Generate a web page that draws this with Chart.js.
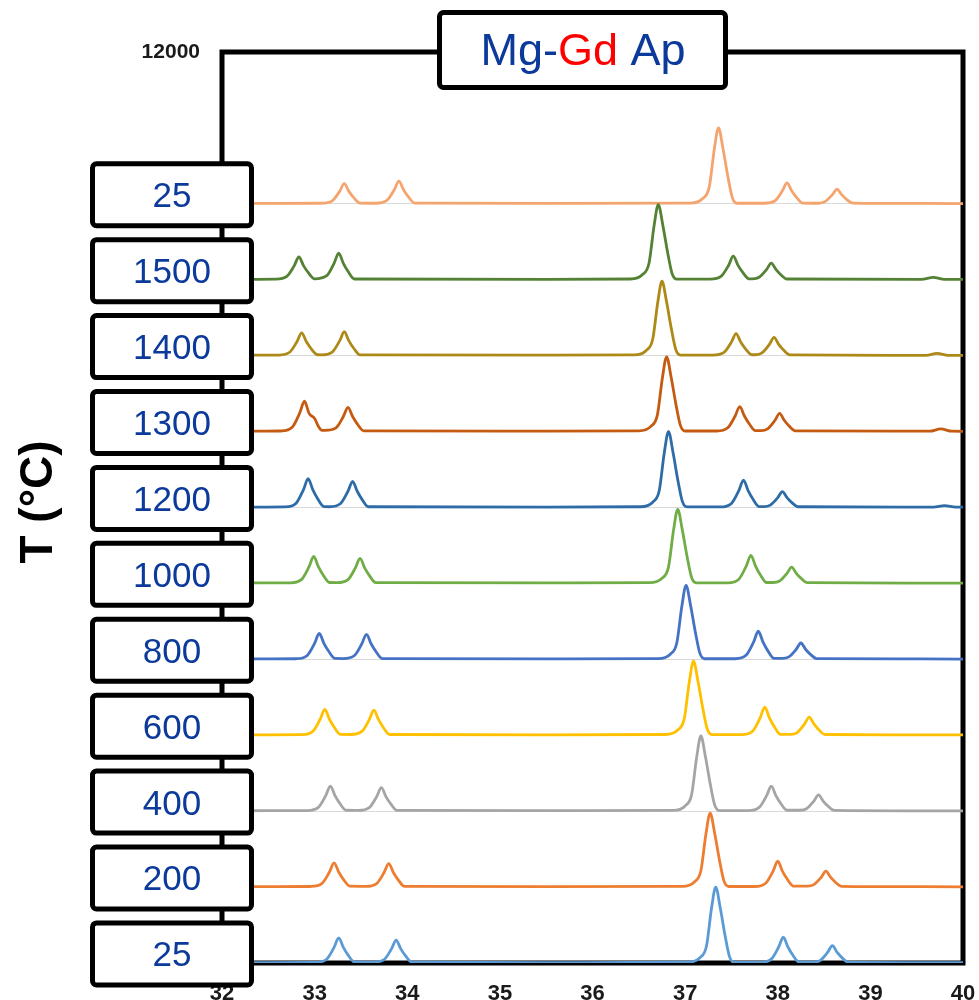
<!DOCTYPE html>
<html>
<head>
<meta charset="utf-8">
<script src="https://cdn.jsdelivr.net/npm/chart.js@4.4.0/dist/chart.umd.min.js"></script>
<style>
  body { margin: 0; background: #fff; }
  canvas { display: block; }
</style>
</head>
<body>
<canvas id="chart" width="979" height="1000"></canvas>
<script>
// temperatures, bottom pattern first
var temps = ['25', '200', '400', '600', '800', '1000', '1200', '1300', '1400', '1500', '25'];
// vertical shift of each pattern (counts)
var offsets = [0, 1000, 2000, 3000, 4000, 5000, 6000, 7000, 8000, 9000, 10000];
var xRange = [32, 40];
var yRange = [0, 12000];

// [2theta, counts above own baseline]
var p25 = [[32,5],[32.5,6],[33.01,8],[33.13,50],[33.21,205],[33.26,330],[33.31,205],[33.36,106],[33.43,12],[33.63,10],[33.75,45],[33.83,186],[33.88,300],[33.93,186],[33.98,96],[34.05,10],[35.5,6],[37.03,10],[37.16,70],[37.23,220],[37.285,720],[37.33,1000],[37.38,720],[37.43,370],[37.48,80],[37.53,8],[37.81,8],[37.93,51],[38.01,211],[38.06,340],[38.11,211],[38.16,109],[38.23,12],[38.39,12],[38.46,35],[38.54,143],[38.59,230],[38.64,143],[38.69,74],[38.76,10],[39.4,5],[40,4]];
var p200 = [[32,5],[32.5,6],[32.96,8],[33.08,48],[33.16,198],[33.21,320],[33.26,198],[33.31,102],[33.38,12],[33.55,10],[33.67,47],[33.75,192],[33.80,310],[33.85,192],[33.90,99],[33.97,10],[35.5,6],[36.97,10],[37.10,68],[37.17,215],[37.225,702],[37.27,975],[37.32,702],[37.37,361],[37.42,78],[37.47,8],[37.75,8],[37.87,51],[37.95,211],[38.00,340],[38.05,211],[38.10,109],[38.17,12],[38.32,12],[38.39,32],[38.47,130],[38.52,210],[38.57,130],[38.62,67],[38.69,10],[39.4,5],[40,4]];
var p400 = [[32,5],[32.5,6],[32.92,8],[33.04,50],[33.12,205],[33.17,330],[33.22,205],[33.27,106],[33.34,12],[33.47,10],[33.59,47],[33.67,192],[33.72,310],[33.77,192],[33.82,99],[33.89,10],[35.5,6],[36.87,10],[37.00,69],[37.07,218],[37.125,713],[37.17,990],[37.22,713],[37.27,366],[37.32,79],[37.37,8],[37.68,8],[37.80,50],[37.88,205],[37.93,330],[37.98,205],[38.03,106],[38.10,12],[38.24,12],[38.31,32],[38.39,133],[38.44,215],[38.49,133],[38.54,69],[38.61,10],[39.4,5],[40,4]];
var p600 = [[32,5],[32.5,6],[32.86,8],[32.98,51],[33.06,211],[33.11,340],[33.16,211],[33.21,109],[33.28,12],[33.39,10],[33.51,50],[33.59,205],[33.64,330],[33.69,205],[33.74,106],[33.81,10],[35.5,6],[36.79,10],[36.92,68],[36.99,215],[37.045,702],[37.09,975],[37.14,702],[37.19,361],[37.24,78],[37.29,8],[37.61,8],[37.73,56],[37.81,229],[37.86,370],[37.91,229],[37.96,118],[38.03,12],[38.14,12],[38.21,36],[38.29,149],[38.34,240],[38.39,149],[38.44,77],[38.51,10],[39.4,5],[40,4]];
var p800 = [[32,5],[32.5,6],[32.80,8],[32.92,51],[33.00,211],[33.05,340],[33.10,211],[33.15,109],[33.22,12],[33.31,10],[33.43,50],[33.51,205],[33.56,330],[33.61,205],[33.66,106],[33.73,10],[35.5,6],[36.71,10],[36.84,68],[36.91,215],[36.965,702],[37.01,975],[37.06,702],[37.11,361],[37.16,78],[37.21,8],[37.54,8],[37.66,56],[37.74,229],[37.79,370],[37.84,229],[37.89,118],[37.96,12],[38.05,12],[38.12,32],[38.20,133],[38.25,215],[38.30,133],[38.35,69],[38.42,10],[39.4,5],[40,4]];
var p1000 = [[32,5],[32.4,6],[32.74,8],[32.86,53],[32.94,220],[32.99,355],[33.04,220],[33.09,114],[33.16,12],[33.24,10],[33.36,50],[33.44,205],[33.49,330],[33.54,205],[33.59,106],[33.66,10],[35.5,6],[36.62,10],[36.75,68],[36.82,215],[36.875,702],[36.92,975],[36.97,702],[37.02,361],[37.07,78],[37.12,8],[37.46,8],[37.58,56],[37.66,229],[37.71,370],[37.76,229],[37.81,118],[37.88,12],[37.95,12],[38.02,32],[38.10,133],[38.15,215],[38.20,133],[38.25,69],[38.32,10],[39.4,5],[40,4]];
var p1200 = [[32,5],[32.4,6],[32.68,8],[32.80,57],[32.88,236],[32.93,380],[32.98,236],[33.03,122],[33.10,12],[33.16,10],[33.28,52],[33.36,214],[33.41,345],[33.46,214],[33.51,110],[33.58,10],[35.5,6],[36.52,10],[36.65,70],[36.72,220],[36.775,720],[36.82,1000],[36.87,720],[36.92,370],[36.97,80],[37.02,8],[37.38,8],[37.50,54],[37.58,223],[37.63,360],[37.68,223],[37.73,115],[37.80,12],[37.85,12],[37.92,32],[38.00,130],[38.05,210],[38.10,130],[38.15,67],[38.22,10],[39.68,5],[39.8,25],[39.92,5],[40,4]];
var p1300 = [[32,5],[32.4,6],[32.64,8],[32.76,60],[32.84,248],[32.89,400],[32.94,240],[33.00,172],[33.04,70],[33.08,15],[33.11,15],[33.23,48],[33.31,198],[33.36,320],[33.41,198],[33.46,102],[33.53,10],[35.5,6],[36.50,10],[36.63,69],[36.70,217],[36.755,709],[36.80,985],[36.85,709],[36.90,364],[36.95,79],[37.00,8],[37.34,8],[37.46,50],[37.54,205],[37.59,330],[37.64,205],[37.69,106],[37.76,12],[37.82,12],[37.89,36],[37.97,149],[38.02,240],[38.07,149],[38.12,77],[38.19,10],[39.64,5],[39.76,35],[39.88,5],[40,4]];
var p1400 = [[32,5],[32.4,6],[32.61,8],[32.73,45],[32.81,186],[32.86,300],[32.91,186],[32.96,96],[33.03,12],[33.07,10],[33.19,47],[33.27,195],[33.32,315],[33.37,195],[33.42,101],[33.49,10],[35.5,6],[36.45,10],[36.58,69],[36.65,216],[36.705,706],[36.75,980],[36.80,706],[36.85,363],[36.90,78],[36.95,8],[37.30,8],[37.42,44],[37.50,180],[37.55,290],[37.60,180],[37.65,93],[37.72,12],[37.76,12],[37.83,36],[37.91,149],[37.96,240],[38.01,149],[38.06,77],[38.13,10],[39.6,5],[39.72,30],[39.84,5],[40,4]];
var p1500 = [[32,5],[32.3,6],[32.58,8],[32.70,45],[32.78,186],[32.83,300],[32.88,186],[32.93,96],[33.00,12],[33.13,53],[33.21,217],[33.26,350],[33.31,217],[33.36,112],[33.43,10],[35.5,6],[36.41,10],[36.54,69],[36.61,218],[36.665,713],[36.71,990],[36.76,713],[36.81,366],[36.86,79],[36.91,8],[37.27,8],[37.39,47],[37.47,192],[37.52,310],[37.57,192],[37.62,99],[37.69,12],[37.73,12],[37.80,33],[37.88,136],[37.93,220],[37.98,136],[38.03,70],[38.10,10],[39.55,5],[39.68,30],[39.8,5],[40,4]];
var p25b = [[32,5],[32.6,6],[33.07,8],[33.19,40],[33.27,164],[33.32,265],[33.37,164],[33.42,85],[33.49,10],[33.66,8],[33.78,45],[33.86,186],[33.91,300],[33.96,186],[34.01,96],[34.08,10],[35.5,6],[37.06,10],[37.19,70],[37.26,220],[37.315,720],[37.36,1000],[37.41,720],[37.46,370],[37.51,80],[37.56,8],[37.85,8],[37.97,41],[38.05,171],[38.10,275],[38.15,171],[38.20,88],[38.27,10],[38.44,8],[38.51,29],[38.59,121],[38.64,195],[38.69,121],[38.74,62],[38.81,10],[39.4,5],[40,4]];

var series = [p25, p200, p400, p600, p800, p1000, p1200, p1300, p1400, p1500, p25b];
var colors = ['#5B9BD5', '#ED7D31', '#A5A5A5', '#FFC000', '#4472C4', '#70AD47', '#2E6CA8', '#C55A11', '#AD8A17', '#548235', '#F4A46E'];

var datasets = series.map(function (s, i) {
  return {
    label: temps[i],
    data: s.map(function (pt) { return { x: pt[0], y: pt[1] + offsets[i] }; }),
    borderColor: colors[i],
    borderWidth: 2.8,
    pointRadius: 0,
    cubicInterpolationMode: 'monotone',
    fill: false
  };
});

function box(ctx, x, y, w, h, r) {
  ctx.beginPath();
  if (ctx.roundRect) ctx.roundRect(x, y, w, h, r);
  else ctx.rect(x, y, w, h);
  ctx.fillStyle = '#fff';
  ctx.fill();
  ctx.stroke();
}

var decorations = {
  id: 'decorations',
  beforeDatasetsDraw: function (chart) {
    var a = chart.chartArea, ctx = chart.ctx;
    ctx.save();
    ctx.lineWidth = 5;
    ctx.strokeStyle = '#000';
    ctx.strokeRect(a.left, a.top, a.right - a.left, a.bottom - a.top);
    ctx.restore();
  },
  afterDraw: function (chart) {
    var ctx = chart.ctx, yScale = chart.scales.y;
    ctx.save();
    ctx.lineWidth = 5;
    ctx.strokeStyle = '#000';

    // temperature boxes
    temps.forEach(function (t, i) {
      var cy = yScale.getPixelForValue(offsets[i] + 120);
      box(ctx, 92.5, cy - 31, 159, 62, 4);
      ctx.fillStyle = '#0B3A9B';
      ctx.font = '35px "Liberation Sans", Arial, sans-serif';
      ctx.textAlign = 'center';
      ctx.textBaseline = 'alphabetic';
      ctx.fillText(t, 172, cy + 12.5);
    });

    // title box
    box(ctx, 439.5, 12.5, 286, 75, 4);
    ctx.font = '45px "Liberation Sans", Arial, sans-serif';
    ctx.textAlign = 'left';
    var parts = [['Mg-', '#0B3A9B'], ['Gd', '#FF0000'], [' Ap', '#0B3A9B']];
    var total = 0;
    parts.forEach(function (p) { total += ctx.measureText(p[0]).width; });
    var x = 583 - total / 2;
    parts.forEach(function (p) {
      ctx.fillStyle = p[1];
      ctx.fillText(p[0], x, 65);
      x += ctx.measureText(p[0]).width;
    });

    // axis title
    ctx.translate(52, 502);
    ctx.rotate(-Math.PI / 2);
    ctx.fillStyle = '#000';
    ctx.font = 'bold 46px "Liberation Sans", Arial, sans-serif';
    ctx.textAlign = 'center';
    ctx.fillText('T (\u00B0C)', 0, 0);
    ctx.restore();
  }
};

var ctx = document.getElementById('chart').getContext('2d');
var chart = new Chart(ctx, {
  type: 'line',
  data: { datasets: datasets },
  plugins: [decorations],
  options: {
    responsive: false,
    devicePixelRatio: 1,
    animation: false,
    layout: { padding: { top: 52, right: 16, left: 0, bottom: 0 } },
    plugins: { legend: { display: false }, tooltip: { enabled: false } },
    scales: {
      x: {
        type: 'linear',
        min: xRange[0],
        max: xRange[1],
        afterFit: function (scale) {
          scale.height = 37;
          // labels sit inside the page margin, no extra side padding
          scale.paddingLeft = 0;
          scale.paddingRight = 0;
        },
        grid: { display: false, drawTicks: false },
        border: { display: false },
        ticks: {
          stepSize: 1,
          padding: 18,
          color: '#1a1a1a',
          font: { family: '"Liberation Sans", Arial, sans-serif', size: 22, weight: 'bold' }
        }
      },
      y: {
        min: yRange[0],
        max: yRange[1],
        afterFit: function (scale) { scale.width = 222; },
        grid: { color: '#d9d9d9', lineWidth: 1, drawTicks: false },
        border: { display: false },
        ticks: {
          stepSize: 2000,
          padding: 22,
          color: '#1a1a1a',
          font: { family: '"Liberation Sans", Arial, sans-serif', size: 21, weight: 'bold' },
          callback: function (v) { return v === yRange[1] ? String(v) : ''; }
        }
      }
    }
  }
});
</script>
</body>
</html>
